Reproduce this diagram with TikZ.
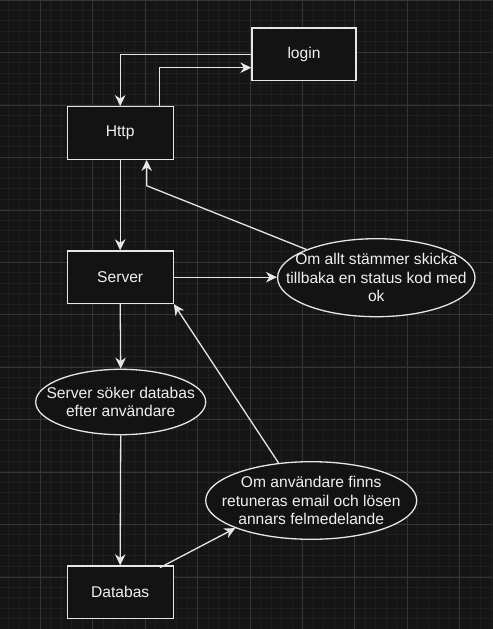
\documentclass[tikz,border=0pt]{standalone}
\usepackage{fontspec}
\setmainfont{Liberation Sans}
\usetikzlibrary{shapes.geometric,arrows.meta}
\definecolor{bgc}{HTML}{151515}
\definecolor{minorc}{HTML}{1F1F1F}
\definecolor{majorc}{HTML}{353535}
\definecolor{fillc}{HTML}{131313}
\definecolor{linec}{HTML}{E6E6E6}
\definecolor{textc}{HTML}{F0F0F0}
\tikzset{
  boxnode/.style={draw=linec, fill=fillc, line width=1.3pt, minimum width=106pt, minimum height=52.5pt, inner sep=0pt, text=textc, font=\fontsize{15.6}{18.7}\selectfont},
  ellnode/.style={ellipse, draw=linec, fill=fillc, line width=1.3pt, inner sep=0pt},
  elltext/.style={inner sep=0pt, align=center, text=textc, font=\fontsize{15.6}{18.7}\selectfont},
  conn/.style={draw=linec, line width=1.3pt, -{Stealth[length=11pt,width=10.5pt,inset=3.5pt]}},
}
\begin{document}
\begin{tikzpicture}[x=1pt,y=-1pt]
\useasboundingbox (0,0) rectangle (493,629);
\fill[bgc] (0,0) rectangle (493,629);
% minor grid
\foreach \i in {0,...,48}{
  \pgfmathsetmacro{\gx}{40.3+(\i-4)*10.486}
  \draw[minorc, line width=0.8pt] (\gx,0) -- (\gx,629);
}
\foreach \j in {0,...,61}{
  \pgfmathsetmacro{\gy}{52.3+(\j-5)*10.486}
  \draw[minorc, line width=0.8pt] (0,\gy) -- (493,\gy);
}
% major grid
\foreach \i in {0,...,9}{
  \pgfmathsetmacro{\gx}{40.3+\i*52.43}
  \draw[majorc, line width=0.9pt] (\gx,0) -- (\gx,629);
}
\foreach \j in {0,...,12}{
  \pgfmathsetmacro{\gy}{0.3+\j*52.43}
  \draw[majorc, line width=0.9pt] (0,\gy) -- (493,\gy);
}
% nodes
\node[boxnode, minimum width=104pt] (login) at (304,54.3) {login};
\node[boxnode] (http) at (120.2,133) {Http};
\node[boxnode] (server) at (120.2,277.2) {Server};
\node[boxnode] (db) at (120.2,592.2) {Databas};
\node[ellnode, minimum width=197.4pt, minimum height=78pt] (e1) at (376.3,277.7) {};
\node[elltext] (e1t) at (e1.center) {Om allt stämmer skicka\\tillbaka en status kod med\\ok};
\node[ellnode, minimum width=170pt, minimum height=65.4pt] (e2) at (120.7,402) {};
\node[elltext] (e2t) at (e2.center) {Server söker databas\\efter användare};
\node[ellnode, minimum width=211pt, minimum height=77.6pt] (e3) at (311.2,500.5) {};
\node[elltext] (e3t) at (e3.center) {Om användare finns\\retuneras email och lösen\\annars felmedelande};
\coordinate (bend1) at (146.7,185.7);
% connectors
\draw[conn] (login.west) -| (http.north);
\draw[conn] ([xshift=39.1pt]http.north) |- ([yshift=-13.4pt]login.west);
\draw[conn] (e1.158) -- (bend1) -- ([xshift=26.5pt]http.south);
\draw[conn] (http.south) -- (server.north);
\draw[conn] (server.east) -- (server.east -| e1.west);
\draw[conn] (server.south) -- (e2.north);
\draw[conn] (e2.south) -- (db.north);
\draw[conn] ([xshift=39.8pt,yshift=-2.3pt]db.north) -- (e3.200.7);
\draw[conn] (e3.131.5) -- (server.south east);
\end{tikzpicture}
\end{document}
